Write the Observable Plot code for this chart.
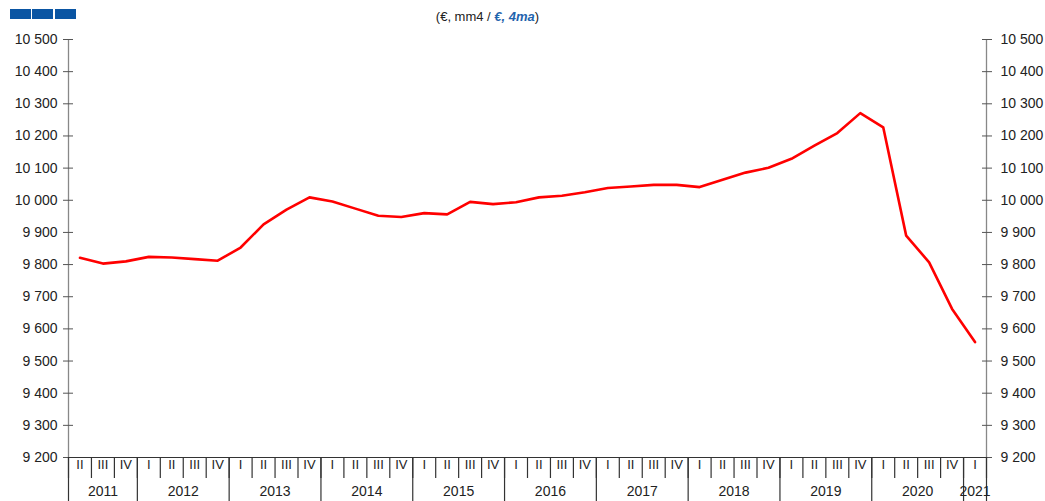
<!DOCTYPE html>
<html>
<head>
<meta charset="utf-8">
<script src="https://cdn.jsdelivr.net/npm/d3@7"></script>
<script src="https://cdn.jsdelivr.net/npm/@observablehq/plot@0.6"></script>
<style>
  html, body { margin: 0; padding: 0; background: #fff; }
  #wrap { position: relative; width: 1045px; height: 501px; overflow: hidden; font-family: "Liberation Sans", Arial, sans-serif; }
  .logo { position: absolute; top: 9px; height: 10px; width: 21px; background: #0a55a3; }
  #sub { position: absolute; top: 9px; left: 0; width: 975px; text-align: center; font-size: 13px; color: #222; white-space: nowrap; }
  #sub b { color: #1f64ad; font-style: italic; }
  #chart { position: absolute; top: 0; left: 0; }
</style>
</head>
<body>
<div id="wrap">
  <div id="chart"></div>
  <div class="logo" style="left:10px"></div>
  <div class="logo" style="left:32px"></div>
  <div class="logo" style="left:55px"></div>
  <div id="sub">(€, mm4 / <b>€, 4ma</b>)</div>
</div>
<script>
// ---- data ----
const years = [2011, 2012, 2013, 2014, 2015, 2016, 2017, 2018, 2019, 2020, 2021];
const quarterNames = ["I", "II", "III", "IV"];
const firstPeriod = {year: 2011, q: 2};
const lastPeriod = {year: 2021, q: 1};
const values = [
  9821, 9803, 9810,
  9824, 9822, 9817, 9812,
  9853, 9925, 9971, 10009,
  9996, 9974, 9952, 9948,
  9960, 9956, 9995, 9988,
  9994, 10009, 10014, 10025,
  10038, 10043, 10048, 10048,
  10041, 10064, 10086, 10101,
  10129, 10170, 10209, 10271,
  10227, 9890, 9807, 9662,
  9559
];
const yTicks = [9200, 9300, 9400, 9500, 9600, 9700, 9800, 9900, 10000, 10100, 10200, 10300, 10400, 10500];

// ---- build table ----
const periods = [];
for (const year of years) {
  for (let q = 1; q <= 4; q++) {
    if (year === firstPeriod.year && q < firstPeriod.q) continue;
    if (year === lastPeriod.year && q > lastPeriod.q) continue;
    periods.push({year, q, label: quarterNames[q - 1]});
  }
}
periods.forEach((d, i) => { d.i = i; d.value = values[i]; });
const n = periods.length;
const yearData = years.map(year => {
  const ps = periods.filter(p => p.year === year);
  return {year, mid: d3.mean(ps, p => p.i + 0.5), start: ps[0].i};
});
const yearBounds = [...yearData.map(d => d.start), n];
const quarterBounds = d3.range(0, n + 1);

const locale = d3.formatLocale({decimal: ",", thousands: "\u00a0", grouping: [3], currency: ["", "€"]});
const fmt = locale.format(",");

const W = 1045, H = 501, mT = 39, mB = 44, mL = 68, mR = 59;
const plotH = H - mT - mB;
const axisGray = "#888";
const dark = "#333";

const chart = Plot.plot({
  width: W, height: H,
  marginTop: mT, marginBottom: mB, marginLeft: mL, marginRight: mR,
  style: {fontFamily: "'Liberation Sans', Arial, sans-serif", fontSize: "14px", color: "#222", background: "white"},
  x: {type: "linear", domain: [0, n], axis: null},
  y: {domain: [9200, 10500], axis: null, label: null},
  marks: [
    // y axis lines
    Plot.ruleX([0, n], {stroke: axisGray, strokeWidth: 1.3}),
    // left axis ticks (crossing) and labels
    Plot.axisY(yTicks, {anchor: "left", tickSize: 10, dx: 5, tickFormat: () => "", stroke: "#555", label: null}),
    Plot.axisY(yTicks, {anchor: "left", tickSize: 0, tickPadding: 11, tickFormat: fmt, fill: "#222", fontSize: 14, label: null}),
    // right axis ticks and labels
    Plot.axisY(yTicks, {anchor: "right", tickSize: 10, dx: -5, tickFormat: () => "", stroke: "#555", label: null}),
    Plot.axisY(yTicks, {anchor: "right", tickSize: 0, tickPadding: 14, tickFormat: fmt, fill: "#222", fontSize: 14, label: null}),
    // bottom baseline
    Plot.ruleY([9200], {stroke: dark, strokeWidth: 1.2}),
    // quarter separators
    Plot.ruleX(quarterBounds, {x: d => d, insetTop: plotH, insetBottom: -21, stroke: dark, strokeWidth: 1.2}),
    // year separators
    Plot.ruleX(yearBounds, {x: d => d, insetTop: plotH, insetBottom: -mB, stroke: dark, strokeWidth: 1.2}),
    // quarter labels
    Plot.text(periods, {x: d => d.i + 0.5, text: "label", frameAnchor: "bottom", dy: 11, fontSize: 13, fill: "#222"}),
    // year labels
    Plot.text(yearData, {x: "mid", text: d => String(d.year), frameAnchor: "bottom", dy: 38, fontSize: 14, fill: "#222"}),
    // series
    Plot.line(periods, {x: d => d.i + 0.5, y: "value", stroke: "#ff0000", strokeWidth: 2.6})
  ]
});
document.getElementById("chart").appendChild(chart);
</script>
</body>
</html>
